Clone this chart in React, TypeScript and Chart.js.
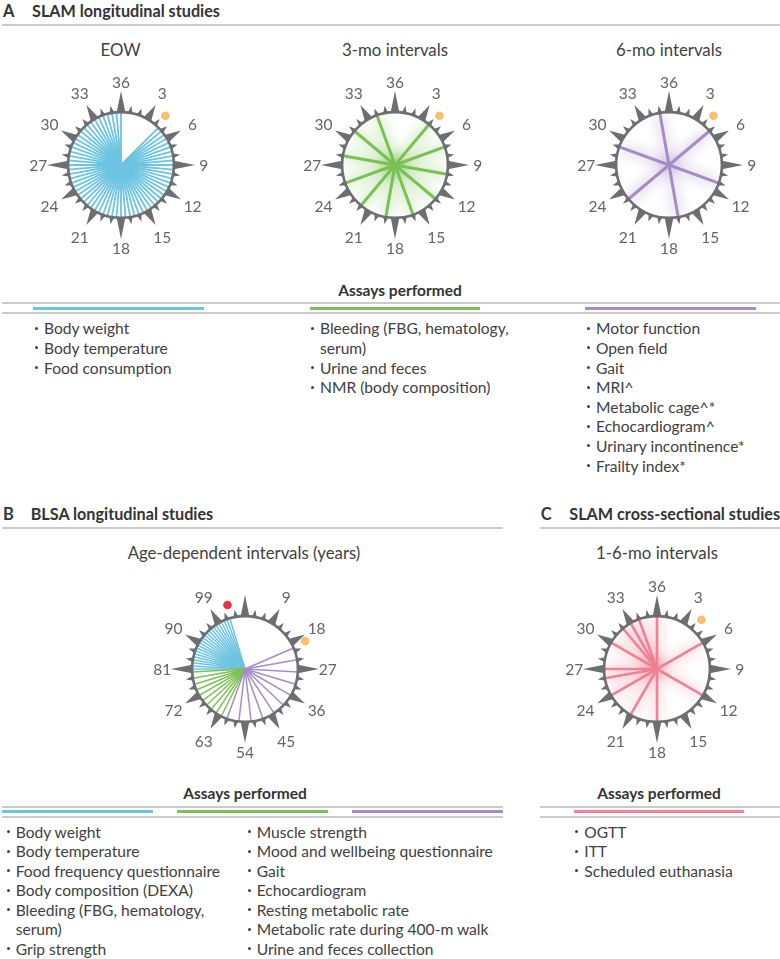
import React, { useEffect, useRef } from "react";
import { Chart, registerables } from "chart.js";

Chart.register(...registerables);

const FONT = "Lato, 'Open Sans', sans-serif";
const GRAY = "#6d6e71";
const RULE = "#c9cacb";
const TEXT = "#414042";
const BLUE = "#6cc4e1";
const GREEN = "#7cc155";
const PURPLE = "#a58cc4";
const PINK = "#ef8296";
const ORANGE = "#fcbf6e";
const RED = "#ec3146";

// ---------------- data ----------------
const monthTickLabels = ["36", "3", "6", "9", "12", "15", "18", "21", "24", "27", "30", "33"];
const ageTickLabels = ["", "9", "18", "27", "36", "45", "54", "63", "72", "81", "90", "99"];

const eowMonths = [
  4.5, 5, 5.5, 6, 6.5, 7, 7.5, 8, 8.5, 9, 9.5, 10, 10.5, 11, 11.5, 12, 12.5, 13, 13.5, 14, 14.5,
  15, 15.5, 16, 16.5, 17, 17.5, 18, 18.5, 19, 19.5, 20, 20.5, 21, 21.5, 22, 22.5, 23, 23.5, 24,
  24.5, 25, 25.5, 26, 26.5, 27, 27.5, 28, 28.5, 29, 29.5, 30, 30.5, 31, 31.5, 32, 32.5, 33, 33.5,
  34, 34.5, 35, 35.5, 36,
];
const threeMoMonths = [4, 7, 10, 13, 16, 19, 22, 25, 28, 31, 34];
const sixMoMonths = [5, 11, 17, 23, 29, 35];
const crossSectionalMonths = [6, 12, 18, 21, 24, 26, 27, 30, 32, 33, 34, 36];
const blsaEvery4Years = [20, 24, 28, 32, 36, 40, 44, 48, 52, 56, 60];
const blsaEvery2Years = [62, 64, 66, 68, 70, 72, 74, 76, 78, 80];
const blsaEvery1Year = [81, 82, 83, 84, 85, 86, 87, 88, 89, 90, 91, 92, 93, 94, 95, 96, 97, 98, 99, 100, 101, 102, 103];
const slamStartMonth = [4.2];
const blsaStartAge = [19.5];
const blsaMaxAge = [103.4];

const aEowAssays = ["Body weight", "Body temperature", "Food consumption"];
const a3moAssays = ["Bleeding (FBG, hematology,\nserum)", "Urine and feces", "NMR (body composition)"];
const a6moAssays = [
  "Motor function", "Open field", "Gait", "MRI^", "Metabolic cage^*", "Echocardiogram^",
  "Urinary incontinence*", "Frailty index*",
];
const blsaAssaysLeft = [
  "Body weight", "Body temperature", "Food frequency questionnaire", "Body composition (DEXA)",
  "Bleeding (FBG, hematology,\nserum)", "Grip strength",
];
const blsaAssaysRight = [
  "Muscle strength", "Mood and wellbeing questionnaire", "Gait", "Echocardiogram",
  "Resting metabolic rate", "Metabolic rate during 400-m walk", "Urine and feces collection",
];
const crossAssays = ["OGTT", "ITT", "Scheduled euthanasia"];

// ---------------- dial chart ----------------
const RING = 55;
const LABEL_R = 86;
const DOT_R = 69;
const HALF = 112;
const SIZE = HALF * 2;

const dialDecor = {
  id: "dialDecor",
  beforeDatasetsDraw(chart: any) {
    const { ctx, scales } = chart;
    const sx = scales.x, sy = scales.y;
    const P = (r: number, a: number) => [sx.getPixelForValue(r * Math.sin(a)), sy.getPixelForValue(r * Math.cos(a))];
    ctx.save();
    ctx.fillStyle = GRAY;
    for (let i = 0; i < 36; i++) {
      const a = (i / 36) * Math.PI * 2;
      const major = i % 3 === 0;
      const cardinal = i % 9 === 0;
      const tipR = cardinal ? 77 : major ? 72 : 62.5;
      const half = major ? 4.8 : 3;
      const da = half / RING;
      const b1 = P(RING - 1, a - da);
      const b2 = P(RING - 1, a + da);
      const t = P(tipR, a);
      ctx.beginPath();
      ctx.moveTo(b1[0], b1[1]);
      ctx.lineTo(t[0], t[1]);
      ctx.lineTo(b2[0], b2[1]);
      ctx.closePath();
      ctx.fill();
    }
    const c = P(0, 0);
    const rp = sx.getPixelForValue(RING) - sx.getPixelForValue(0);
    ctx.beginPath();
    ctx.arc(c[0], c[1], rp, 0, Math.PI * 2);
    ctx.fillStyle = "#ffffff";
    ctx.fill();
    ctx.restore();
  },
  beforeDatasetDraw(chart: any, args: any) {
    const ds = chart.data.datasets[args.index];
    if (!ds.glow) return;
    const { ctx, scales } = chart;
    const cx = scales.x.getPixelForValue(0), cy = scales.y.getPixelForValue(0);
    const rp = scales.x.getPixelForValue(RING) - cx;
    ctx.save();
    ctx.beginPath();
    ctx.arc(cx, cy, rp, 0, Math.PI * 2);
    ctx.clip();
    ctx.shadowColor = ds.glow;
    ctx.shadowBlur = 14;
  },
  afterDatasetDraw(chart: any, args: any) {
    const ds = chart.data.datasets[args.index];
    if (ds.glow) chart.ctx.restore();
  },
  afterDatasetsDraw(chart: any, _args: any, opts: any) {
    const { ctx, scales } = chart;
    const sx = scales.x, sy = scales.y;
    const cx = sx.getPixelForValue(0), cy = sy.getPixelForValue(0);
    const rp = sx.getPixelForValue(RING) - cx;
    ctx.save();
    ctx.beginPath();
    ctx.arc(cx, cy, rp, 0, Math.PI * 2);
    ctx.strokeStyle = GRAY;
    ctx.lineWidth = 2.6;
    ctx.stroke();
    ctx.fillStyle = "#636466";
    ctx.font = `15.5px ${FONT}`;
    ctx.textAlign = "center";
    ctx.textBaseline = "middle";
    const labels: string[] = opts.labels || [];
    labels.forEach((lab, k) => {
      if (!lab) return;
      const a = (k / labels.length) * Math.PI * 2;
      const x = sx.getPixelForValue(LABEL_R * Math.sin(a));
      const y = sy.getPixelForValue(LABEL_R * Math.cos(a));
      ctx.fillText(lab, x, y + 1);
    });
    ctx.restore();
  },
};

type SpokeGroup = { values: number[]; color: string; width: number; glow?: string };
type DotSpec = { values: number[]; color: string; r: number };

function Dial(props: { cx: number; cy: number; period: number; labels: string[]; groups: SpokeGroup[]; dots: DotSpec[] }) {
  const ref = useRef<HTMLCanvasElement>(null);
  const { cx, cy, period, labels, groups, dots } = props;
  useEffect(() => {
    const datasets: any[] = [];
    groups.forEach((g) => {
      g.values.forEach((v) => {
        const a = (v / period) * Math.PI * 2;
        datasets.push({
          data: [
            { x: 0, y: 0 },
            { x: RING * Math.sin(a), y: RING * Math.cos(a) },
          ],
          showLine: true,
          borderColor: g.color,
          backgroundColor: g.color,
          borderWidth: g.width,
          borderCapStyle: "butt",
          pointRadius: 0,
          glow: g.glow,
          clip: false,
        });
      });
    });
    dots.forEach((d) => {
      datasets.push({
        data: d.values.map((v) => {
          const a = (v / period) * Math.PI * 2;
          return { x: DOT_R * Math.sin(a), y: DOT_R * Math.cos(a) };
        }),
        showLine: false,
        pointRadius: d.r,
        pointBackgroundColor: d.color,
        backgroundColor: d.color,
        pointBorderWidth: 0,
        borderWidth: 0,
        clip: false,
      });
    });
    const chart = new Chart(ref.current as HTMLCanvasElement, {
      type: "scatter",
      data: { datasets },
      options: {
        animation: false,
        responsive: false,
        maintainAspectRatio: false,
        events: [],
        layout: { padding: 0 },
        scales: {
          x: { type: "linear", min: -HALF, max: HALF, display: false },
          y: { type: "linear", min: -HALF, max: HALF, display: false },
        },
        plugins: {
          legend: { display: false },
          tooltip: { enabled: false },
          dialDecor: { labels },
        } as any,
      },
      plugins: [dialDecor as any],
    });
    return () => chart.destroy();
  }, []);
  return (
    <canvas
      ref={ref}
      width={SIZE}
      height={SIZE}
      style={{ position: "absolute", left: cx - HALF, top: cy - HALF, width: SIZE, height: SIZE }}
    />
  );
}

// ---------------- text helpers ----------------
function T(props: { x: number; y: number; text: string; size?: number; bold?: boolean; align?: "left" | "center"; color?: string }) {
  const { x, y, text, size = 15.5, bold = false, align = "left", color = TEXT } = props;
  const lh = 20;
  return (
    <div
      style={{
        position: "absolute",
        left: x,
        top: y - lh / 2,
        lineHeight: `${lh}px`,
        fontSize: size,
        fontWeight: bold ? 700 : 400,
        color,
        whiteSpace: "nowrap",
        transform: align === "center" ? "translateX(-50%)" : undefined,
      }}
    >
      {text}
    </div>
  );
}

function HLine(props: { x1: number; x2: number; y: number; color: string; w?: number }) {
  const { x1, x2, y, color, w = 2 } = props;
  return <div style={{ position: "absolute", left: x1, width: x2 - x1, top: y - w / 2, height: w, background: color }} />;
}

function BulletList(props: { x: number; y: number; lh: number; items: string[] }) {
  const { x, y, lh, items } = props;
  const out: React.ReactNode[] = [];
  let row = 0;
  items.forEach((it, i) => {
    it.split("\n").forEach((line, j) => {
      const yy = y + row * lh;
      if (j === 0) {
        out.push(
          <div key={`b${i}`} style={{ position: "absolute", left: x - 9, top: yy - 1.5, width: 3, height: 3, borderRadius: 2, background: TEXT }} />
        );
      }
      out.push(<T key={`t${i}-${j}`} x={x} y={yy} text={line} size={15.6} />);
      row++;
    });
  });
  return <>{out}</>;
}

export default function App() {
  return (
    <div
      style={{
        position: "absolute",
        left: 0,
        top: 0,
        width: 780,
        height: 959,
        background: "#ffffff",
        fontFamily: FONT,
        overflow: "hidden",
      }}
    >
      {/* Section A */}
      <T x={3} y={10.5} text="A" bold size={16.5} color="#333333" />
      <T x={32} y={10.5} text="SLAM longitudinal studies" bold size={16.2} color="#333333" />
      <HLine x1={2} x2={780} y={24.5} color={RULE} />

      <T x={120.5} y={50} text="EOW" size={16.8} align="center" />
      <T x={395} y={50} text="3-mo intervals" size={16.8} align="center" />
      <T x={669} y={50} text="6-mo intervals" size={16.8} align="center" />

      <Dial cx={120.5} cy={165} period={36} labels={monthTickLabels}
        groups={[{ values: eowMonths, color: BLUE, width: 1.8 }]}
        dots={[{ values: slamStartMonth, color: ORANGE, r: 4.3 }]} />
      <Dial cx={395} cy={165} period={36} labels={monthTickLabels}
        groups={[{ values: threeMoMonths, color: GREEN, width: 3, glow: GREEN }]}
        dots={[{ values: slamStartMonth, color: ORANGE, r: 4.3 }]} />
      <Dial cx={669} cy={165} period={36} labels={monthTickLabels}
        groups={[{ values: sixMoMonths, color: PURPLE, width: 3, glow: PURPLE }]}
        dots={[{ values: slamStartMonth, color: ORANGE, r: 4.3 }]} />

      <T x={400} y={289.5} text="Assays performed" bold size={15.5} color="#333333" align="center" />
      <HLine x1={2} x2={780} y={303.3} color={RULE} />
      <HLine x1={2} x2={780} y={313.3} color={RULE} />
      <HLine x1={32.5} x2={204} y={308.3} color={BLUE} w={2.6} />
      <HLine x1={310} x2={480} y={308.3} color={GREEN} w={2.6} />
      <HLine x1={585} x2={756} y={308.3} color={PURPLE} w={2.6} />

      <BulletList x={44} y={328.3} lh={19.6} items={aEowAssays} />
      <BulletList x={320} y={328.3} lh={19.6} items={a3moAssays} />
      <BulletList x={596} y={328.3} lh={19.6} items={a6moAssays} />

      {/* Section B */}
      <T x={3} y={514.3} text="B" bold size={16.5} color="#333333" />
      <T x={30.7} y={514.3} text="BLSA longitudinal studies" bold size={16.2} color="#333333" />
      <HLine x1={2} x2={503} y={528.3} color={RULE} />
      <T x={244} y={552.7} text="Age-dependent intervals (years)" size={16.8} align="center" />

      <Dial cx={245} cy={668.5} period={108} labels={ageTickLabels}
        groups={[
          { values: blsaEvery4Years, color: PURPLE, width: 1.5 },
          { values: blsaEvery2Years, color: GREEN, width: 1.5 },
          { values: blsaEvery1Year, color: BLUE, width: 1.5 },
        ]}
        dots={[
          { values: blsaStartAge, color: ORANGE, r: 4.3 },
          { values: blsaMaxAge, color: RED, r: 4.3 },
        ]} />

      <T x={245} y={792.7} text="Assays performed" bold size={15.5} color="#333333" align="center" />
      <HLine x1={2} x2={503} y={806.7} color={RULE} />
      <HLine x1={2} x2={503} y={816.7} color={RULE} />
      <HLine x1={2} x2={153} y={811.7} color={BLUE} w={2.6} />
      <HLine x1={176.7} x2={328} y={811.7} color={GREEN} w={2.6} />
      <HLine x1={351.7} x2={503} y={811.7} color={PURPLE} w={2.6} />
      <BulletList x={15.7} y={831.7} lh={19.5} items={blsaAssaysLeft} />
      <BulletList x={256.7} y={831.7} lh={19.5} items={blsaAssaysRight} />

      {/* Section C */}
      <T x={540.7} y={514.3} text="C" bold size={16.5} color="#333333" />
      <T x={569.3} y={514.3} text="SLAM cross-sectional studies" bold size={16.2} color="#333333" />
      <HLine x1={540} x2={780} y={528.3} color={RULE} />
      <T x={657} y={552.7} text="1-6-mo intervals" size={16.8} align="center" />

      <Dial cx={656.5} cy={668.5} period={36} labels={monthTickLabels}
        groups={[{ values: crossSectionalMonths, color: PINK, width: 2.6, glow: PINK }]}
        dots={[{ values: slamStartMonth, color: ORANGE, r: 4.3 }]} />

      <T x={659} y={792.7} text="Assays performed" bold size={15.5} color="#333333" align="center" />
      <HLine x1={540} x2={780} y={806.7} color={RULE} />
      <HLine x1={540} x2={780} y={816.7} color={RULE} />
      <HLine x1={574} x2={744} y={811.7} color={PINK} w={2.6} />
      <BulletList x={584.3} y={831.7} lh={19.5} items={crossAssays} />
    </div>
  );
}
